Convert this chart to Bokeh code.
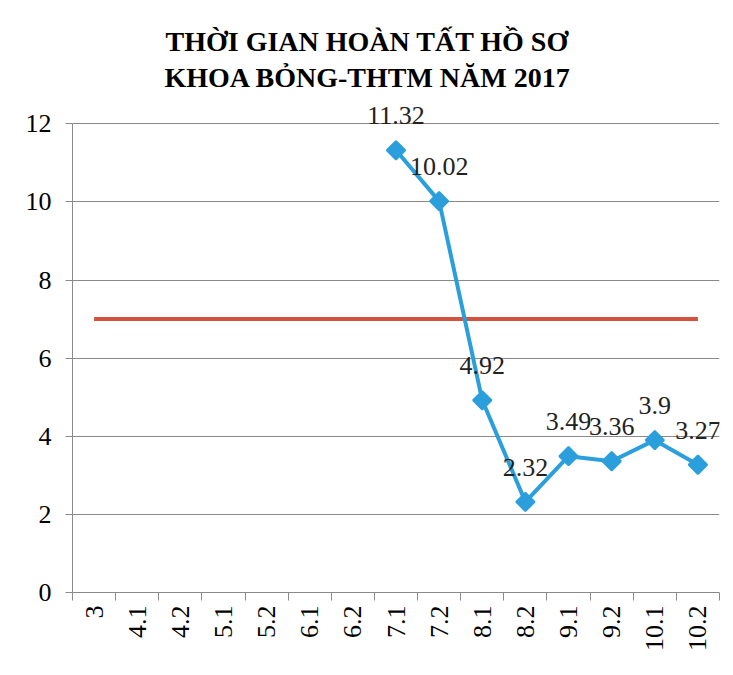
import math
from bokeh.plotting import figure
from bokeh.models import Range1d, FixedTicker, LabelSet, ColumnDataSource, Title
from bokeh.core.properties import value
from bokeh.embed import file_html
from bokeh.resources import INLINE

title_lines = ["THỜI GIAN HOÀN TẤT HỒ SƠ", "KHOA BỎNG-THTM NĂM 2017"]
categories = ["3", "4.1", "4.2", "5.1", "5.2", "6.1", "6.2", "7.1",
              "7.2", "8.1", "8.2", "9.1", "9.2", "10.1", "10.2"]
series_categories = ["7.1", "7.2", "8.1", "8.2", "9.1", "9.2", "10.1", "10.2"]
series_values = [11.32, 10.02, 4.92, 2.32, 3.49, 3.36, 3.9, 3.27]
target_value = 7
y_ticks = [0, 2, 4, 6, 8, 10, 12]

FONT = "Liberation Serif"
BLUE = "#2b9fdc"
RED = "#d4533f"
GRID = "#8a8a8a"

pos = {c: i for i, c in enumerate(categories)}

p = figure(width=725, height=667,
           x_range=Range1d(-0.5, len(categories) - 0.5),
           y_range=Range1d(min(y_ticks), max(y_ticks) + 0.8),
           output_backend="svg", toolbar_location=None,
           min_border_left=72, min_border_right=6,
           min_border_top=92, min_border_bottom=75,
           background_fill_color="white", border_fill_color="white")
p.outline_line_color = None

# titles: the added Title sits nearest the plot, p.title above it
p.title.text = title_lines[0]
p.title.text_font = FONT
p.title.text_font_size = "28px"
p.title.text_font_style = "bold"
p.title.align = "left"
p.title.offset = 93
p.title.text_color = "black"
p.title.standoff = 5
p.add_layout(Title(text=title_lines[1], text_font=FONT, text_font_size="28px",
                   text_font_style="bold", align="left", text_color="black",
                   offset=92, standoff=0), "above")

# x axis
xa = p.xaxis[0]
xa.ticker = FixedTicker(ticks=[pos[c] for c in categories],
                        minor_ticks=[pos[c] - 0.5 for c in categories] + [len(categories) - 0.5])
xa.major_label_overrides = {pos[c]: c for c in categories}
xa.major_label_orientation = math.pi / 2
xa.major_tick_line_color = None
xa.major_tick_out = 8
xa.major_tick_in = 0
xa.minor_tick_out = 8
xa.minor_tick_in = 0
xa.minor_tick_line_color = GRID
xa.axis_line_color = GRID
xa.major_label_standoff = 5
xa.major_label_text_font = FONT
xa.major_label_text_font_size = "26px"
xa.major_label_text_color = "black"

# y axis
ya = p.yaxis[0]
ya.ticker = FixedTicker(ticks=y_ticks)
ya.bounds = (min(y_ticks), max(y_ticks))
ya.major_tick_out = 7
ya.major_tick_in = 0
ya.minor_tick_line_color = None
ya.major_tick_line_color = GRID
ya.axis_line_color = GRID
ya.major_label_standoff = 14
ya.major_label_text_font = FONT
ya.major_label_text_font_size = "26px"
ya.major_label_text_color = "black"

p.xgrid.visible = False
p.ygrid.ticker = FixedTicker(ticks=y_ticks)
p.ygrid.grid_line_color = GRID
p.ygrid.grid_line_width = 1

# target line
p.line(x=[pos[c] for c in categories], y=[target_value] * len(categories),
       line_color=RED, line_width=4)

# series
src = ColumnDataSource(dict(x=[pos[c] for c in series_categories], y=series_values,
                            label=[str(v) for v in series_values]))
p.line(x="x", y="y", source=src, line_color=BLUE, line_width=4)
p.scatter(x="x", y="y", source=src, marker="square", size=13, angle=math.pi / 4,
          fill_color=BLUE, line_color=BLUE, line_width=2)

labels = LabelSet(x="x", y="y", text="label", source=src, text_align="center",
                  text_baseline="alphabetic", y_offset=26,
                  text_font=value(FONT), text_font_size="26px", text_color="#222222")
p.add_layout(labels)

open("out.html", "w").write(file_html(p, INLINE))
